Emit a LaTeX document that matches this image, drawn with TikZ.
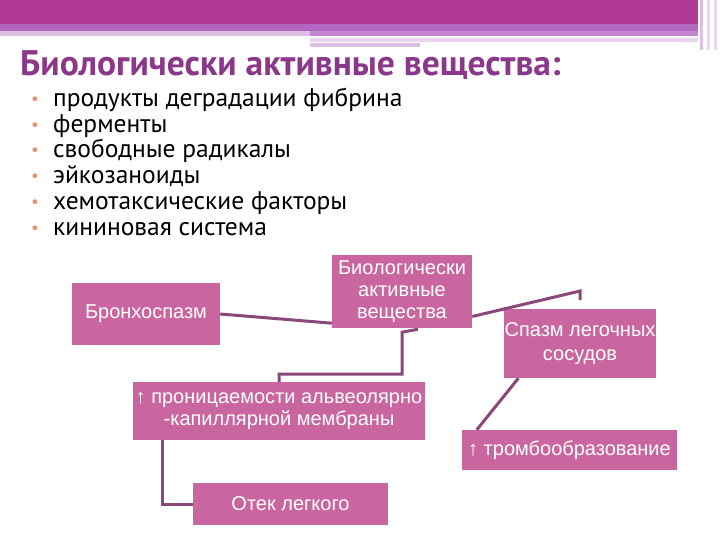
\documentclass[tikz,border=0pt]{standalone}
\usepackage{fontspec}
\setmainfont{PT Sans}
\newfontfamily\boxfont{Liberation Sans}
\usepackage{xcolor}
\usetikzlibrary{positioning}
\definecolor{barmagenta}{RGB}{176, 58, 150}
\definecolor{barlilac}{RGB}{178, 104, 192}
\definecolor{barpale}{RGB}{222, 190, 228}
\definecolor{barfaint}{RGB}{236, 214, 238}
\definecolor{titlepurple}{RGB}{140, 56, 138}
\definecolor{boxpink}{RGB}{201, 102, 160}
\definecolor{linkpurple}{RGB}{138, 72, 122}
\definecolor{dotorange}{RGB}{222, 150, 112}
\newcommand{\itemdot}{\makebox[22pt][l]{\raisebox{2pt}{\textcolor{dotorange}{\fontsize{17}{17}\selectfont •}}}}

\begin{document}
\begin{tikzpicture}[x=1pt, y=-1pt]
    \tikzstyle{box}  = [rectangle, fill=boxpink, text=white, align=center,
                        inner sep=1pt, font=\boxfont\fontsize{20}{22}\selectfont]
    \tikzstyle{conn} = [line width=3pt, color=linkpurple]
    \tikzstyle{item} = [anchor=base west, inner sep=0pt, font=\fontsize{25.5}{26}\selectfont]

    \useasboundingbox (0,0) rectangle (720,540);
    \fill[white] (0,0) rectangle (720,540);

    %% ── Header bars ────────────────────────────────────────────────────────
    \fill[barmagenta] (0,0)   rectangle (698,24);
    \fill[barlilac]   (0,24)  rectangle (698,31);
    \fill[barpale]    (0,31)  rectangle (310,36);
    \fill[barlilac!80]  (310,31) rectangle (698,36);
    \fill[barfaint]   (310,38) rectangle (698,42);
    \fill[barpale]    (310,43) rectangle (420,47);
    \fill[barpale]    (700,0) rectangle (703,50);
    \fill[barfaint]   (707,0) rectangle (710,50);
    \fill[barfaint]   (714,0) rectangle (717,50);

    %% ── Title and list ─────────────────────────────────────────────────────
    \node[anchor=base west, inner sep=0pt, text=titlepurple,
          font=\fontsize{35.5}{38}\selectfont\bfseries] at (20,76) (title)
      {Биологически активные вещества:};

    \node[item] at (31,107) (i1) {\itemdot продукты деградации фибрина};
    \node[item] at (31,133) (i2) {\itemdot ферменты};
    \node[item] at (31,158) (i3) {\itemdot свободные радикалы};
    \node[item] at (31,184) (i4) {\itemdot эйкозаноиды};
    \node[item] at (31,210) (i5) {\itemdot хемотаксические факторы};
    \node[item] at (31,236) (i6) {\itemdot кининовая система};

    %% ── Boxes ──────────────────────────────────────────────────────────────
    \node[box, minimum width=148, minimum height=62] at (146,314)   (bronch) {Бронхоспазм};
    \node[box, minimum width=140, minimum height=73] at (402,291.5) (bav)
      {Биологически\\активные\\вещества};
    \node[box, minimum width=150, minimum height=69,
          font=\boxfont\fontsize{20}{24}\selectfont] at (580,343.5) (spasm)
      {Спазм легочных\\сосудов};
    \node[box, minimum width=292, minimum height=58] at (279,411)   (perm)
      {↑ проницаемости альвеолярно\\-капиллярной мембраны};
    \node[box, minimum width=215, minimum height=40] at (569.5,450) (thromb)
      {↑ тромбообразование};
    \node[box, minimum width=195, minimum height=42] at (290.5,504) (otek)
      {Отек легкого};

    \coordinate (tick) at (580,291);

    %% ── Connectors ─────────────────────────────────────────────────────────
    \draw[conn] (bronch.east) -- ([yshift=5pt]bav.south west);
    \draw[conn] ([xshift=16pt,yshift=-1pt]bav.south) -- ([yshift=-4pt]bav.south)
                -- ++(0,42) -| (perm.north);
    \draw[conn] ([yshift=-25pt]bav.east) -- (tick) -- ++(0,9);
    \draw[conn] ([xshift=15pt]spasm.south west) -- ([xshift=15pt]thromb.north west);
    \draw[conn] ([xshift=30pt]perm.south west) |- (otek.west);
  \end{tikzpicture}
\end{document}
